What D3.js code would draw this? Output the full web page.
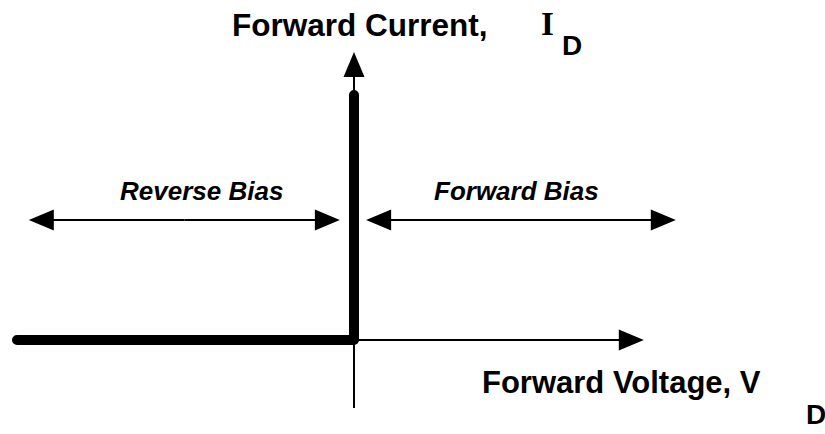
<!DOCTYPE html>
<html>
<head>
<meta charset="utf-8">
<script src="https://cdn.jsdelivr.net/npm/d3@7"></script>
<style>
  body { margin: 0; background: #fff; }
  text { font-family: "Liberation Sans", Arial, sans-serif; font-weight: bold; fill: #000; }
</style>
</head>
<body>
<div id="chart"></div>
<script>
// Ideal diode characteristic (normalised units)
const curveVoltage = [-1, 0, 0];
const curveCurrent = [0, 0, 1];

// axis extents
const xAxisRange = [0, 0.86];
const yAxisRange = [-0.278, 1.176];

// region arrows: [from, to] in voltage units, drawn at current level
const regionNames = ["Reverse Bias", "Forward Bias"];
const regionFrom = [-0.965, 0.036];
const regionTo = [-0.042, 0.955];
const regionLevel = 0.49;

const axisTitles = ["Forward Current,", "Forward Voltage, V"];

const width = 825, height = 434;

const svg = d3.select('#chart')
    .append('svg')
    .attr('width', width)
    .attr('height', height);

const xScale = d3.scaleLinear().domain([-1, 1]).range([17, 691]);
const yScale = d3.scaleLinear().domain([0, 1]).range([340, 95]);

const headLen = 25, headHalf = 10.5;

// draw a line with a filled arrowhead at the 'to' end
function arrow(x1, y1, x2, y2, sw) {
    const dx = x2 - x1, dy = y2 - y1;
    const len = Math.sqrt(dx * dx + dy * dy);
    const ux = dx / len, uy = dy / len;
    const bx = x2 - ux * headLen, by = y2 - uy * headLen;
    svg.append("line")
        .attr("x1", x1).attr("y1", y1)
        .attr("x2", bx + ux * 2).attr("y2", by + uy * 2)
        .attr("stroke", "#000")
        .attr("stroke-width", sw);
    const pts = [
        [x2, y2],
        [bx - uy * headHalf, by + ux * headHalf],
        [bx + uy * headHalf, by - ux * headHalf]
    ];
    svg.append("path")
        .attr("d", "M" + pts.map(p => p.join(",")).join("L") + "Z")
        .attr("fill", "#000");
}

// axes
arrow(xScale(0), yScale(yAxisRange[0]), xScale(0), yScale(yAxisRange[1]), 2);
arrow(xScale(xAxisRange[0]), yScale(0), xScale(xAxisRange[1]), yScale(0), 2);

// characteristic curve
const curve = curveVoltage.map((v, i) => ({ v: v, i: curveCurrent[i] }));
const lineGen = d3.line()
    .x(d => xScale(d.v))
    .y(d => yScale(d.i));

svg.append("path")
    .attr("d", lineGen(curve))
    .attr("fill", "none")
    .attr("stroke", "#000")
    .attr("stroke-width", 10)
    .attr("stroke-linecap", "round")
    .attr("stroke-linejoin", "round");

// region arrows (double-headed)
regionNames.forEach((name, k) => {
    const xa = xScale(regionFrom[k]), xb = xScale(regionTo[k]);
    const y = yScale(regionLevel);
    const xm = (xa + xb) / 2;
    arrow(xm, y, xa, y, 2);
    arrow(xm, y, xb, y, 2);
    svg.append("text")
        .attr("x", k === 0 ? 120 : 434)
        .attr("y", 200)
        .style("font-size", "26px")
        .style("font-style", "italic")
        .text(name);
});

// axis titles
svg.append("text")
    .attr("x", 232)
    .attr("y", 36)
    .style("font-size", "31.5px")
    .text(axisTitles[0]);

svg.append("text")
    .attr("x", 541)
    .attr("y", 35)
    .style("font-family", "'Liberation Serif', 'Times New Roman', serif")
    .style("font-size", "33px")
    .text("I");

svg.append("text")
    .attr("x", 562)
    .attr("y", 55)
    .style("font-size", "28px")
    .text("D");

svg.append("text")
    .attr("x", 482)
    .attr("y", 393)
    .style("font-size", "31px")
    .text(axisTitles[1]);

svg.append("text")
    .attr("x", 806)
    .attr("y", 424)
    .style("font-size", "28px")
    .text("D");
</script>
</body>
</html>
